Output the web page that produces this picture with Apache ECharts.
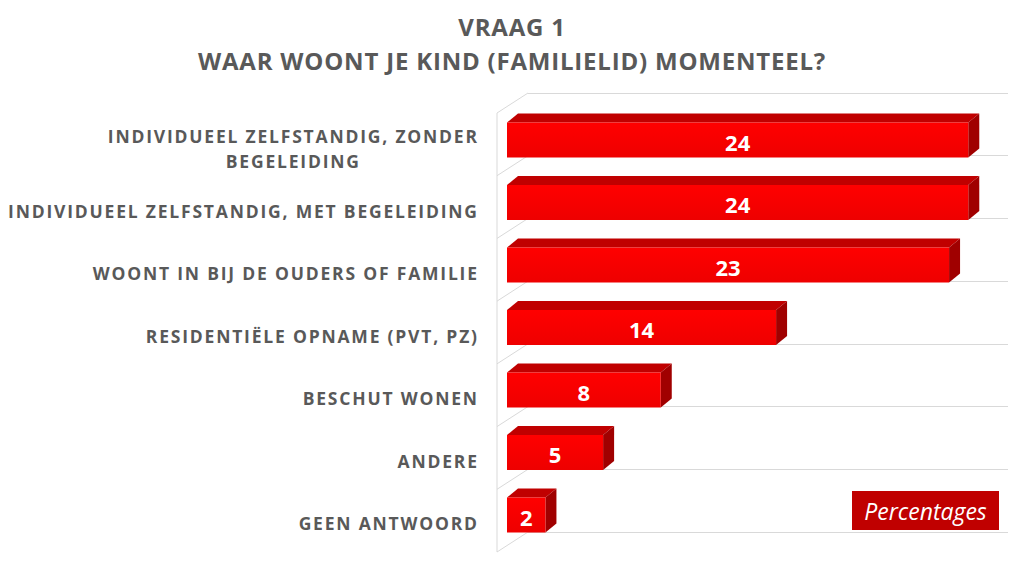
<!DOCTYPE html>
<html>
<head>
<meta charset="utf-8">
<script src="https://cdn.jsdelivr.net/npm/echarts@6/dist/echarts.min.js"></script>
<style>html,body{margin:0;padding:0;background:#fff;}#c{width:1024px;height:570px;}</style>
</head>
<body>
<div id="c"></div>
<script>
const titleLines = ['VRAAG 1', 'WAAR WOONT JE KIND (FAMILIELID) MOMENTEEL?'];
const categories = [
  'INDIVIDUEEL ZELFSTANDIG, ZONDER\nBEGELEIDING',
  'INDIVIDUEEL ZELFSTANDIG, MET BEGELEIDING',
  'WOONT IN BIJ DE OUDERS OF FAMILIE',
  'RESIDENTIËLE OPNAME (PVT, PZ)',
  'BESCHUT WONEN',
  'ANDERE',
  'GEEN ANTWOORD'
];
const values = [24, 24, 23, 14, 8, 5, 2];
const unitLabel = 'Percentages';
const axisMax = 25;

const labelColor = '#595959';
const fontFam = "'Open Sans', 'DejaVu Sans', sans-serif";
const labelSize = 17.5, labelSpacing = 1.8;
const titleSize = 24, titleSpacing = 0.8;
const labelAnchorX = 477; // right end of label text

// measure first line of the two-line label to centre both lines under it
const mctx = document.createElement('canvas').getContext('2d');
mctx.font = 'bold ' + labelSize + 'px ' + fontFam;
const firstLines = categories[0].split('\n');
const w1 = mctx.measureText(firstLines[0]).width + labelSpacing * firstLines[0].length;

const catData = categories.map((c, i) => i === 0
  ? {value: c, textStyle: {align: 'center', padding: [0, w1, 0, 0]}}
  : {value: c});

const seriesData = values.map((v, i) => [v, i]);

const chart = echarts.init(document.getElementById('c'), null, {renderer: 'svg'});

function renderWall(params, api) {
  const i = api.value(1);
  const c = api.coord([0, i]);
  const band = api.size([0, 1])[1];
  const yTop = c[1] - band / 2;
  const dx = 31, dy = 20;
  const st = {stroke: '#D9D9D9', lineWidth: 1};
  const children = [{
    type: 'line', shape: {x1: c[0], y1: yTop, x2: c[0] - dx, y2: yTop + dy}, style: st
  }];
  if (i === categories.length - 1) {
    children.push({type: 'line', shape: {x1: c[0], y1: yTop + band, x2: c[0] - dx, y2: yTop + band + dy}, style: st});
  }
  if (i === 0) {
    children.push({type: 'line', shape: {x1: c[0] - dx, y1: yTop + dy, x2: c[0] - dx, y2: yTop + dy + band * categories.length}, style: st});
  }
  return {type: 'group', children};
}

function renderBar(params, api) {
  const v = api.value(0), i = api.value(1);
  const s = api.coord([0, i]);
  const e = api.coord([v, i]);
  const band = api.size([0, 1])[1];
  const h = band * 0.56;
  const top = s[1] - h / 2, bot = s[1] + h / 2;
  const dx = 11, dy = 9;
  return {
    type: 'group',
    children: [
      {type: 'polygon', shape: {points: [[s[0], top], [e[0], top], [e[0] + dx, top - dy], [s[0] + dx, top - dy]]},
        style: {fill: '#C00000'}},
      {type: 'polygon', shape: {points: [[e[0], top], [e[0] + dx, top - dy], [e[0] + dx, bot - dy], [e[0], bot]]},
        style: {fill: '#A00000'}},
      {type: 'rect', shape: {x: s[0], y: top, width: e[0] - s[0], height: h},
        style: {fill: new echarts.graphic.LinearGradient(0, 0, 0, 1, [{offset: 0, color: '#FF0000'}, {offset: 1, color: '#EE0000'}])}},
      {type: 'text', x: (s[0] + e[0]) / 2, y: s[1] + 1.5,
        style: {text: String(v), fill: '#FFFFFF', font: "bold 22px 'Open Sans', sans-serif", align: 'center', verticalAlign: 'middle'}}
    ]
  };
}

chart.setOption({
  animation: false,
  backgroundColor: '#FFFFFF',
  title: {
    text: titleLines.join('\n'),
    left: 'center',
    top: 4,
    textStyle: {color: labelColor, fontFamily: fontFam, fontWeight: 'bold', fontSize: titleSize, lineHeight: 34}
  },
  grid: [
    {left: 528, right: 16, top: 93, bottom: 38},
    {left: 507, width: 480.5, top: 108.75, height: 437.5},
    {left: 507, width: 480.5, top: 116.75, height: 437.5}
  ],
  xAxis: [
    {gridIndex: 0, type: 'value', min: 0, max: axisMax, show: false},
    {gridIndex: 1, type: 'value', min: 0, max: axisMax, show: false},
    {gridIndex: 2, type: 'value', min: 0, max: axisMax, show: false}
  ],
  yAxis: [
    {gridIndex: 0, type: 'category', data: categories, inverse: true,
      axisLine: {show: false}, axisTick: {show: false}, axisLabel: {show: false},
      splitLine: {show: true, lineStyle: {color: '#D9D9D9', width: 1}}},
    {gridIndex: 1, type: 'category', data: categories, inverse: true, show: false},
    {gridIndex: 2, type: 'category', data: catData, inverse: true,
      axisLine: {show: false}, axisTick: {show: false}, splitLine: {show: false},
      axisLabel: {margin: 507 - labelAnchorX - labelSpacing, color: labelColor, fontFamily: fontFam, fontWeight: 'bold',
        fontSize: labelSize, lineHeight: 25}}
  ],
  graphic: [
    {type: 'group', left: 852, top: 491, children: [
      {type: 'rect', shape: {x: 0, y: 0, width: 147, height: 39}, style: {fill: '#C00000'}},
      {type: 'text', x: 73.5, y: 20, style: {text: unitLabel, fill: '#FFFFFF', font: "italic 23px 'Open Sans', sans-serif", align: 'center', verticalAlign: 'middle'}}
    ]}
  ],
  series: [
    {type: 'custom', xAxisIndex: 0, yAxisIndex: 0, data: seriesData, encode: {x: 0, y: 1}, renderItem: renderWall, silent: true, z: 1},
    {type: 'custom', xAxisIndex: 1, yAxisIndex: 1, data: seriesData, encode: {x: 0, y: 1}, renderItem: renderBar, z: 5}
  ]
});

// letter spacing (tracking) as in the original typography
const labelLineSet = new Set();
categories.forEach(c => c.split('\n').forEach(l => labelLineSet.add(l)));
const titleSet = new Set(titleLines);
function applySpacing() {
  document.querySelectorAll('#c text').forEach(t => {
    const s = t.textContent;
    if (labelLineSet.has(s)) t.style.letterSpacing = labelSpacing + 'px';
    else if (titleSet.has(s)) t.style.letterSpacing = titleSpacing + 'px';
  });
}
applySpacing();
chart.on('finished', applySpacing);
requestAnimationFrame(applySpacing);
setTimeout(applySpacing, 50);
</script>
</body>
</html>
